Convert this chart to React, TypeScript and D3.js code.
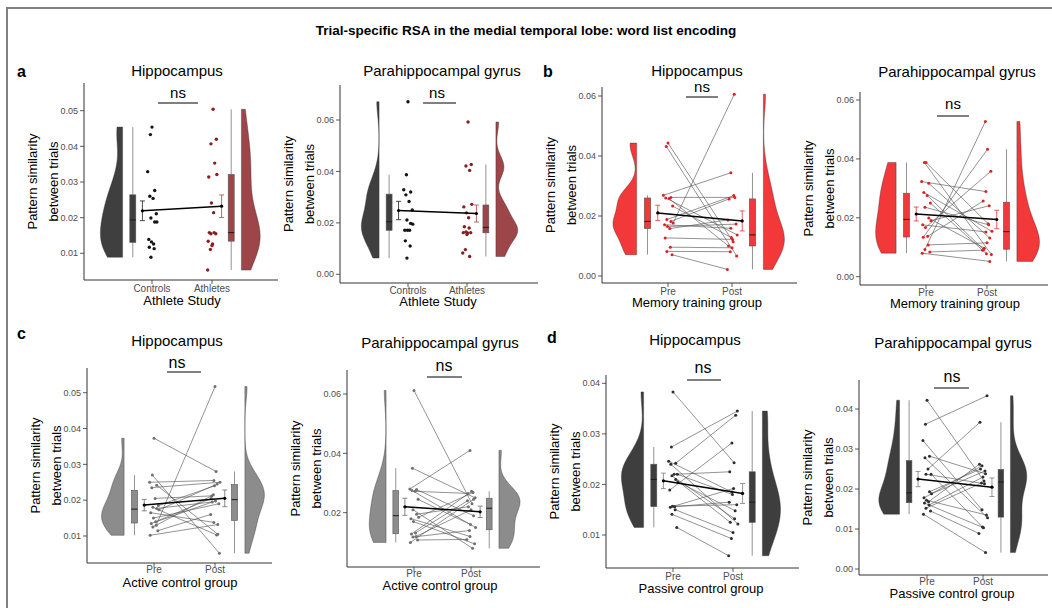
import * as d3 from "d3";

const FONT = "'Liberation Sans', Arial, Helvetica, sans-serif";

const MAIN_TITLE = "Trial-specific RSA in the medial temporal lobe: word list encoding";
const REGIONS = ["Hippocampus", "Parahippocampal gyrus"];
const ATHLETE_CATS = ["Controls", "Athletes"];
const TRAINING_CATS = ["Pre", "Post"];
const X_TITLES = ["Athlete Study", "Memory training group", "Active control group", "Passive control group"];
const LETTERS = ["a", "b", "c", "d"];

// y tick values per panel
const TICKS_A_HIPPO = [0.01, 0.02, 0.03, 0.04, 0.05];
const TICKS_A_PHG = [0.0, 0.02, 0.04, 0.06];
const TICKS_B = [0.0, 0.02, 0.04, 0.06];
const TICKS_C_HIPPO = [0.01, 0.02, 0.03, 0.04, 0.05];
const TICKS_C_PHG = [0.02, 0.04, 0.06];
const TICKS_D_HIPPO = [0.01, 0.02, 0.03, 0.04];
const TICKS_D_PHG = [0.0, 0.01, 0.02, 0.03, 0.04];

// a: athlete study (unpaired)
const hippoControls = [0.0454, 0.0433, 0.0329, 0.0276, 0.026, 0.0254, 0.0211, 0.0199, 0.0188, 0.0188, 0.0139, 0.0132, 0.0126, 0.0117, 0.0113, 0.0089];
const hippoAthletes = [0.0504, 0.042, 0.0407, 0.0353, 0.0321, 0.0314, 0.0241, 0.0214, 0.0158, 0.0158, 0.0155, 0.0155, 0.0134, 0.0126, 0.0122, 0.0111, 0.0053];
const phgControls = [0.0671, 0.0387, 0.0329, 0.032, 0.0309, 0.0283, 0.025, 0.0211, 0.0198, 0.0195, 0.0171, 0.0171, 0.0171, 0.013, 0.011, 0.0063];
const phgAthletes = [0.0592, 0.0427, 0.0421, 0.0404, 0.0272, 0.0262, 0.0239, 0.022, 0.0185, 0.018, 0.0165, 0.0162, 0.0162, 0.0161, 0.0155, 0.0096, 0.0083, 0.0069];

// b: memory training (paired, same subject order pre/post)
const memHippoPre = [0.0443, 0.0432, 0.0269, 0.0262, 0.026, 0.0258, 0.0233, 0.0188, 0.0182, 0.0177, 0.0171, 0.0165, 0.0158, 0.0127, 0.0096, 0.0082, 0.0071];
const memHippoPost = [0.0114, 0.0067, 0.0344, 0.0262, 0.0137, 0.01, 0.0128, 0.0268, 0.0257, 0.0606, 0.0159, 0.0173, 0.0187, 0.0122, 0.0094, 0.0081, 0.0022];
const memPhgPre = [0.0388, 0.0388, 0.0323, 0.0317, 0.0286, 0.0276, 0.025, 0.0236, 0.0199, 0.019, 0.0176, 0.0167, 0.0137, 0.0134, 0.0108, 0.0092, 0.0084, 0.008];
const memPhgPost = [0.018, 0.0075, 0.0289, 0.0131, 0.0154, 0.0092, 0.0078, 0.0176, 0.0097, 0.0241, 0.0152, 0.0358, 0.0257, 0.0433, 0.0115, 0.0527, 0.009, 0.0052];

// c: active control
const actHippoPre = [0.0373, 0.027, 0.025, 0.0242, 0.0235, 0.0205, 0.0185, 0.018, 0.0177, 0.0173, 0.0165, 0.015, 0.014, 0.0135, 0.013, 0.0125, 0.0115, 0.0102];
const actHippoPost = [0.028, 0.0052, 0.0255, 0.0105, 0.025, 0.0212, 0.024, 0.0103, 0.0195, 0.0245, 0.0138, 0.019, 0.0205, 0.0198, 0.0517, 0.0215, 0.016, 0.0132];
const actPhgPre = [0.0612, 0.035, 0.028, 0.0278, 0.0275, 0.0272, 0.0245, 0.021, 0.0195, 0.0185, 0.018, 0.017, 0.0132, 0.0128, 0.012, 0.0118, 0.0108, 0.01];
const actPhgPost = [0.023, 0.025, 0.041, 0.019, 0.015, 0.0265, 0.016, 0.008, 0.022, 0.0268, 0.012, 0.0095, 0.024, 0.0272, 0.021, 0.014, 0.011, 0.0245];

// d: passive control
const pasHippoPre = [0.0383, 0.0274, 0.0246, 0.0242, 0.024, 0.022, 0.022, 0.0217, 0.021, 0.0205, 0.0189, 0.0157, 0.0156, 0.0155, 0.015, 0.0141, 0.0115];
const pasHippoPost = [0.0243, 0.0345, 0.0185, 0.0337, 0.0122, 0.0225, 0.018, 0.0132, 0.0125, 0.0148, 0.0282, 0.016, 0.0165, 0.0192, 0.0105, 0.0093, 0.0059];
const pasPhgPre = [0.0422, 0.0362, 0.0321, 0.0282, 0.0278, 0.025, 0.0237, 0.0237, 0.0193, 0.0188, 0.0178, 0.0172, 0.0168, 0.0165, 0.016, 0.0152, 0.0145, 0.0137];
const pasPhgPost = [0.022, 0.0433, 0.0148, 0.0238, 0.0128, 0.0367, 0.0105, 0.0213, 0.025, 0.0245, 0.0258, 0.0135, 0.0262, 0.0103, 0.023, 0.0215, 0.0089, 0.0041];

// horizontal jitter pattern for the dots (category units)
const JITTER = [0.0, -0.03, -0.08, 0.05, -0.04, 0.02, 0.08, -0.02, 0.05, 0.09, -0.06, -0.01, 0.03, -0.05, 0.04, -0.02, 0.07, -0.07, 0.01];

type Pal = { fill: string; point: string; err: string };
const PAL_A: Pal[] = [
  { fill: "#3f3f3f", point: "#141414", err: "#333333" },
  { fill: "#9d4549", point: "#8e1c1f", err: "#b45a5a" },
];
const PAL_B: Pal[] = [
  { fill: "#f23838", point: "#e01f1f", err: "#e44a4a" },
  { fill: "#f23838", point: "#e01f1f", err: "#e44a4a" },
];
const PAL_C: Pal[] = [
  { fill: "#8c8c8c", point: "#707070", err: "#7a7a7a" },
  { fill: "#8c8c8c", point: "#707070", err: "#7a7a7a" },
];
const PAL_D: Pal[] = [
  { fill: "#3e3e3e", point: "#2e2e2e", err: "#8a8a8a" },
  { fill: "#3e3e3e", point: "#2e2e2e", err: "#8a8a8a" },
];

type PanelDef = {
  region: string;
  cats: string[];
  xTitle: string;
  groups: number[][];
  paired: boolean;
  ticks: number[];
  pal: Pal[];
  nsSize: number;
};

const PANELS: PanelDef[] = [
  { region: REGIONS[0], cats: ATHLETE_CATS, xTitle: X_TITLES[0], groups: [hippoControls, hippoAthletes], paired: false, ticks: TICKS_A_HIPPO, pal: PAL_A, nsSize: 15 },
  { region: REGIONS[1], cats: ATHLETE_CATS, xTitle: X_TITLES[0], groups: [phgControls, phgAthletes], paired: false, ticks: TICKS_A_PHG, pal: PAL_A, nsSize: 15 },
  { region: REGIONS[0], cats: TRAINING_CATS, xTitle: X_TITLES[1], groups: [memHippoPre, memHippoPost], paired: true, ticks: TICKS_B, pal: PAL_B, nsSize: 15 },
  { region: REGIONS[1], cats: TRAINING_CATS, xTitle: X_TITLES[1], groups: [memPhgPre, memPhgPost], paired: true, ticks: TICKS_B, pal: PAL_B, nsSize: 15 },
  { region: REGIONS[0], cats: TRAINING_CATS, xTitle: X_TITLES[2], groups: [actHippoPre, actHippoPost], paired: true, ticks: TICKS_C_HIPPO, pal: PAL_C, nsSize: 16 },
  { region: REGIONS[1], cats: TRAINING_CATS, xTitle: X_TITLES[2], groups: [actPhgPre, actPhgPost], paired: true, ticks: TICKS_C_PHG, pal: PAL_C, nsSize: 16 },
  { region: REGIONS[0], cats: TRAINING_CATS, xTitle: X_TITLES[3], groups: [pasHippoPre, pasHippoPost], paired: true, ticks: TICKS_D_HIPPO, pal: PAL_D, nsSize: 16 },
  { region: REGIONS[1], cats: TRAINING_CATS, xTitle: X_TITLES[3], groups: [pasPhgPre, pasPhgPost], paired: true, ticks: TICKS_D_PHG, pal: PAL_D, nsSize: 16 },
];

// page layout of each panel (pixels)
type Lay = {
  ax: number; top: number; bot: number; right: number;
  yHi: [number, number]; yLo: [number, number];
  c1: number; c2: number; tx: number; ty: number;
  nsx: number; nsy: number; nl: [number, number, number];
  ly: number; xtx: number; xty: number;
};
const LAYOUT: Lay[] = [
  { ax: 84, top: 83, bot: 280, right: 278, yHi: [0.05, 110.7], yLo: [0.01, 253.3], c1: 152, c2: 212, tx: 177, ty: 76, nsx: 178, nsy: 98, nl: [158, 198, 103], ly: 292, xtx: 182, xty: 305 },
  { ax: 340, top: 85, bot: 283, right: 538, yHi: [0.06, 120], yLo: [0, 274.3], c1: 408, c2: 467, tx: 442, ty: 76, nsx: 437, nsy: 98, nl: [423, 456, 103], ly: 294, xtx: 438, xty: 306 },
  { ax: 602, top: 87, bot: 283, right: 797, yHi: [0.06, 96], yLo: [0, 276], c1: 668, c2: 732, tx: 697, ty: 76, nsx: 702, nsy: 92, nl: [686, 718, 97], ly: 295, xtx: 697, xty: 307 },
  { ax: 860, top: 92, bot: 285, right: 1048, yHi: [0.06, 100], yLo: [0, 276.7], c1: 926, c2: 987, tx: 957, ty: 77, nsx: 953, nsy: 109, nl: [937, 969, 116], ly: 296, xtx: 955, xty: 308 },
  { ax: 87, top: 368, bot: 563, right: 272, yHi: [0.05, 392.7], yLo: [0.01, 536], c1: 154, c2: 215, tx: 177, ty: 346, nsx: 177, nsy: 368, nl: [167, 201, 372], ly: 573, xtx: 180, xty: 587 },
  { ax: 347, top: 370, bot: 567, right: 540, yHi: [0.06, 394], yLo: [0.02, 512.7], c1: 414, c2: 471, tx: 440, ty: 348, nsx: 444, nsy: 371, nl: [427, 462, 377], ly: 577, xtx: 440, xty: 590 },
  { ax: 606, top: 375, bot: 568, right: 799, yHi: [0.04, 383.3], yLo: [0.01, 535], c1: 673, c2: 733, tx: 695, ty: 345, nsx: 703, nsy: 373, nl: [687, 721, 380], ly: 580, xtx: 701, xty: 593 },
  { ax: 859, top: 380, bot: 575, right: 1048, yHi: [0.04, 409], yLo: [0, 569], c1: 927, c2: 983, tx: 953, ty: 348, nsx: 952, nsy: 382, nl: [934, 969, 388], ly: 585, xtx: 952, xty: 598 },
];
const LETTER_POS = [[17, 77], [543, 77], [17, 339], [547, 343]];

const OFF_ERR = 0.16;
const OFF_BOX = 0.32;
const OFF_VIOLIN = 0.49;
const VIOLIN_W = 0.37;
const BOX_W = 0.1;

function stats(vals: number[]) {
  const s = vals.slice().sort(d3.ascending);
  const q1 = d3.quantileSorted(s, 0.25)!;
  const med = d3.quantileSorted(s, 0.5)!;
  const q3 = d3.quantileSorted(s, 0.75)!;
  const iqr = q3 - q1;
  const lo = d3.min(s.filter((v) => v >= q1 - 1.5 * iqr))!;
  const hi = d3.max(s.filter((v) => v <= q3 + 1.5 * iqr))!;
  const mean = d3.mean(s)!;
  const se = d3.deviation(s)! / Math.sqrt(s.length);
  return { q1, med, q3, lo, hi, mean, se };
}

// gaussian kde, bw.nrd0, trimmed to the data range (like geom_violin)
function density(vals: number[]) {
  const s = vals.slice().sort(d3.ascending);
  const n = s.length;
  const iqr = d3.quantileSorted(s, 0.75)! - d3.quantileSorted(s, 0.25)!;
  const sd = d3.deviation(s)!;
  const bw = 0.9 * Math.min(sd, iqr / 1.34) * Math.pow(n, -0.2);
  const lo = s[0];
  const hi = s[n - 1];
  return d3.range(161).map((i) => {
    const v = lo + ((hi - lo) * i) / 160;
    const d = d3.sum(s, (x) => Math.exp(-0.5 * ((v - x) / bw) ** 2)) / (n * bw * Math.sqrt(2 * Math.PI));
    return { v, d };
  });
}

const fmt = d3.format(".2f");

function Panel({ p, l }: { p: PanelDef; l: Lay }) {
  const y = d3.scaleLinear().domain([l.yLo[0], l.yHi[0]]).range([l.yLo[1], l.yHi[1]]);
  const x = d3.scaleLinear().domain([1, 2]).range([l.c1, l.c2]);
  const unit = l.c2 - l.c1;
  const dens = p.groups.map(density);
  const maxD = d3.max(dens.flat(), (d) => d.d)!;
  const w = d3.scaleLinear().domain([0, maxD]).range([0, VIOLIN_W * unit]);
  const st = p.groups.map(stats);
  const sides = [-1, 1];
  const midY = (l.top + l.bot) / 2;

  const pts = p.groups.map((g, gi) =>
    g.map((v, i) => ({ cx: x(gi + 1 + JITTER[(i + gi * 5) % JITTER.length] * 0.9), cy: y(v) }))
  );

  return (
    <g>
      {/* violins */}
      {dens.map((dd, gi) => {
        const k = gi + 1;
        const s = sides[gi];
        const flat = x(k + s * OFF_VIOLIN);
        const area = d3
          .area<{ v: number; d: number }>()
          .y((d) => y(d.v))
          .x0(flat)
          .x1((d) => flat + s * w(d.d));
        return <path key={"v" + gi} d={area(dd) || ""} fill={p.pal[gi].fill} stroke="#333" strokeWidth={0.4} />;
      })}
      {/* boxplots */}
      {st.map((b, gi) => {
        const k = gi + 1;
        const cx = x(k + sides[gi] * OFF_BOX);
        const hw = (BOX_W * unit) / 2;
        return (
          <g key={"b" + gi}>
            <line x1={cx} x2={cx} y1={y(b.hi)} y2={y(b.q3)} stroke="#777" strokeWidth={0.8} />
            <line x1={cx} x2={cx} y1={y(b.q1)} y2={y(b.lo)} stroke="#777" strokeWidth={0.8} />
            <rect x={cx - hw} width={hw * 2} y={y(b.q3)} height={y(b.q1) - y(b.q3)} fill={p.pal[gi].fill} stroke="#555" strokeWidth={0.6} />
            <line x1={cx - hw} x2={cx + hw} y1={y(b.med)} y2={y(b.med)} stroke="#1a1a1a" strokeWidth={1} />
          </g>
        );
      })}
      {/* paired lines */}
      {p.paired &&
        p.groups[0].map((_, i) => (
          <line key={"pl" + i} x1={pts[0][i].cx} y1={pts[0][i].cy} x2={pts[1][i].cx} y2={pts[1][i].cy} stroke="#555" strokeOpacity={0.85} strokeWidth={0.75} />
        ))}
      {/* points */}
      {pts.map((gp, gi) =>
        gp.map((pt, i) => <circle key={"p" + gi + "-" + i} cx={pt.cx} cy={pt.cy} r={p.paired ? 1.5 : 1.7} fill={p.pal[gi].point} />)
      )}
      {/* mean line */}
      <line x1={x(1 - OFF_ERR)} y1={y(st[0].mean)} x2={x(2 + OFF_ERR)} y2={y(st[1].mean)} stroke="#000" strokeWidth={1.5} />
      {/* error bars */}
      {st.map((b, gi) => {
        const cx = x(gi + 1 + sides[gi] * OFF_ERR);
        const c = p.pal[gi].err;
        return (
          <g key={"e" + gi}>
            <line x1={cx} x2={cx} y1={y(b.mean + b.se)} y2={y(b.mean - b.se)} stroke={c} strokeWidth={0.9} />
            <line x1={cx - 2.5} x2={cx + 2.5} y1={y(b.mean + b.se)} y2={y(b.mean + b.se)} stroke={c} strokeWidth={0.9} />
            <line x1={cx - 2.5} x2={cx + 2.5} y1={y(b.mean - b.se)} y2={y(b.mean - b.se)} stroke={c} strokeWidth={0.9} />
            <circle cx={cx} cy={y(b.mean)} r={1.6} fill="#000" />
          </g>
        );
      })}
      {/* axes */}
      <line x1={l.ax} x2={l.ax} y1={l.top} y2={l.bot} stroke="#333" strokeWidth={1} />
      <line x1={l.ax} x2={l.right} y1={l.bot} y2={l.bot} stroke="#333" strokeWidth={1} />
      {p.ticks.map((t) => (
        <g key={"t" + t}>
          <line x1={l.ax - 4} x2={l.ax} y1={y(t)} y2={y(t)} stroke="#333" strokeWidth={0.8} />
          <text x={l.ax - 6} y={y(t)} dy="0.35em" textAnchor="end" fontSize={9} fill="#4d4d4d">
            {fmt(t)}
          </text>
        </g>
      ))}
      {p.cats.map((c, gi) => (
        <g key={"c" + gi}>
          <line x1={x(gi + 1)} x2={x(gi + 1)} y1={l.bot} y2={l.bot + 4} stroke="#333" strokeWidth={0.8} />
          <text x={x(gi + 1)} y={l.ly} textAnchor="middle" fontSize={10} fill="#4d4d4d">
            {c}
          </text>
        </g>
      ))}
      <text x={l.xtx} y={l.xty} textAnchor="middle" fontSize={13} fill="#000">
        {p.xTitle}
      </text>
      <text transform={`translate(${l.ax - 47},${midY}) rotate(-90)`} textAnchor="middle" fontSize={13} fill="#000">
        Pattern similarity
      </text>
      <text transform={`translate(${l.ax - 26},${midY}) rotate(-90)`} textAnchor="middle" fontSize={13} fill="#000">
        between trials
      </text>
      <text x={l.tx} y={l.ty} textAnchor="middle" fontSize={15} fill="#000">
        {p.region}
      </text>
      <text x={l.nsx} y={l.nsy} textAnchor="middle" fontSize={p.nsSize} fill="#000">
        ns
      </text>
      <line x1={l.nl[0]} x2={l.nl[1]} y1={l.nl[2]} y2={l.nl[2]} stroke="#000" strokeWidth={1} />
    </g>
  );
}

export default function App() {
  return (
    <svg
      width={1052}
      height={608}
      style={{ position: "absolute", left: 0, top: 0, background: "#fff" }}
      fontFamily={FONT}
    >
      <rect width={1052} height={608} fill="#fff" />
      <path d="M7,608 V8 H1052" fill="none" stroke="#808080" strokeWidth={2} />
      <text x={526} y={35} textAnchor="middle" fontWeight="bold" fontSize={13.5} fill="#000">
        {MAIN_TITLE}
      </text>
      {PANELS.map((p, i) => (
        <Panel key={i} p={p} l={LAYOUT[i]} />
      ))}
      {LETTERS.map((t, i) => (
        <text key={t} x={LETTER_POS[i][0]} y={LETTER_POS[i][1]} fontWeight="bold" fontSize={16} fill="#000">
          {t}
        </text>
      ))}
    </svg>
  );
}
